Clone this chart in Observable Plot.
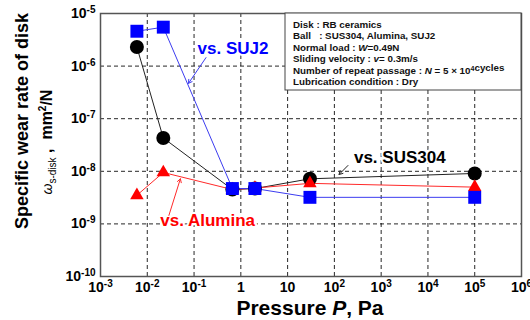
<!DOCTYPE html>
<html><head><meta charset="utf-8">
<script src="https://cdn.jsdelivr.net/npm/d3@7"></script>
<script src="https://cdn.jsdelivr.net/npm/@observablehq/plot@0.6"></script>
<style>body{margin:0;background:#fff} svg{display:block}</style>
</head><body><div id="chart"></div>
<script>
// ---- data ----
const pressure = [0.006, 0.022, 0.66, 2, 30, 1e5];
const sus304  = [2.3e-6, 4.3e-8, 4.5e-9, 4.7e-9, 7.2e-9, 9.1e-9];
const alumina = [3.5e-9, 9.5e-9, 4.5e-9, 4.8e-9, 5.9e-9, 5.0e-9];
const suj2    = [4.6e-6, 5.5e-6, 4.7e-9, 4.7e-9, 3.2e-9, 3.2e-9];
const xTicks = [1e-3, 1e-2, 1e-1, 1, 10, 1e2, 1e3, 1e4, 1e5, 1e6];
const yTicks = [1e-10, 1e-9, 1e-8, 1e-7, 1e-6, 1e-5];
const labelNames = ["vs. SUJ2", "vs. SUS304", "vs. Alumina"];
const labelX = [0.68, 2500, 0.195];
const labelY = [2.2e-6, 1.8e-8, 1.15e-9];
const arrowX1 = [0.18, 195, 0.029];
const arrowY1 = [1.45e-6, 1.29e-8, 1.45e-9];
const arrowX2 = [0.076, 126, 0.051];
const arrowY2 = [4.7e-7, 8.7e-9, 7.2e-9];
const infoLines = [
  ["Disk : RB ceramics"],
  ["Ball   : SUS304, Alumina, SUJ2"],
  ["Normal load : ", ["W", "i"], "=0.49N"],
  ["Sliding velocity : ", ["v", "i"], "= 0.3m/s"],
  ["Number of repeat passage : ", ["N", "i"], " = 5 \u00d7 10", ["4", "s"], "cycles"],
  ["Lubrication condition : Dry"]
];

const colors = {SUS304: "#000000", Alumina: "#ff0000", SUJ2: "#0000ff"};
const lineColors = {SUS304: "#222222", Alumina: "#ff2a2a", SUJ2: "#3c3cf0"};
const series = [
  {name: "SUS304", values: sus304, symbol: "circle", r: 7},
  {name: "Alumina", values: alumina, symbol: "triangle", r: 5},
  {name: "SUJ2", values: suj2, symbol: "square", r: 7.3}
];
const rows = s => pressure.map((p, i) => ({p, v: s.values[i]}));
const labelColorOrder = ["SUJ2", "SUS304", "Alumina"];
const labels = labelNames.map((t, i) => ({t, x: labelX[i], y: labelY[i], c: colors[labelColorOrder[i]]}));
const arrows = labelNames.map((t, i) => ({x1: arrowX1[i], y1: arrowY1[i], x2: arrowX2[i], y2: arrowY2[i], c: lineColors[labelColorOrder[i]]}));
const gridRowsX = xTicks.map(v => ({v}));
const gridRowsY = yTicks.map(v => ({v}));

const fmt = d => {
  const e = Math.round(Math.log10(d));
  if (e === 0) return "1";
  if (e === 1) return "10";
  return "10^" + e;
};

const font = "'Liberation Sans', Arial, sans-serif";

const marks = [
  Plot.ruleX(gridRowsX, {x: "v", stroke: "#000000", strokeOpacity: 0.85, strokeDasharray: "4 3", strokeWidth: 1}),
  Plot.ruleY(gridRowsY, {y: "v", stroke: "#000000", strokeOpacity: 0.85, strokeDasharray: "4 3", strokeWidth: 1}),
  Plot.frame({stroke: "#555", strokeWidth: 1.5}),
  Plot.axisX(xTicks, {tickFormat: fmt, tickSize: 0, tickPadding: 6, fontSize: 14, fontWeight: "bold", label: null}),
  Plot.axisY(yTicks, {tickFormat: fmt, tickSize: 0, tickPadding: 5, fontSize: 14, fontWeight: "bold", label: null})
];
for (const s of series) {
  marks.push(Plot.line(rows(s), {x: "p", y: "v", stroke: lineColors[s.name], strokeWidth: 1}));
}
for (const s of series) {
  marks.push(Plot.dot(rows(s), {x: "p", y: "v", symbol: s.symbol, r: s.r, fill: colors[s.name], stroke: "none"}));
}
marks.push(Plot.text(labels, {x: "x", y: "y", text: "t", fill: "c", stroke: "white", strokeWidth: 4, fontSize: 17, fontWeight: "bold"}));
marks.push(Plot.arrow(arrows, {x1: "x1", y1: "y1", x2: "x2", y2: "y2", stroke: "c", strokeWidth: 1, headLength: 6}));

const svg = Plot.plot({
  width: 530, height: 320,
  marginLeft: 100, marginRight: 9, marginTop: 13, marginBottom: 44,
  x: {type: "log", domain: [1e-3, 1e6]},
  y: {type: "log", domain: [1e-10, 1e-5]},
  style: {fontFamily: font, color: "#000", background: "#fff"},
  marks
});

// superscript exponents on tick labels
d3.select(svg).selectAll('[aria-label="x-axis tick label"] text, [aria-label="y-axis tick label"] text').each(function() {
  const t = this.textContent;
  if (t.includes("^")) {
    const [b, e] = t.split("^");
    const sel = d3.select(this);
    sel.text(b);
    sel.append("tspan").attr("dy", "-0.5em").attr("font-size", 10).text(e);
  }
});

const root = d3.select(svg);
// y-axis title
root.append("text")
  .attr("transform", "translate(22,121) rotate(-90)")
  .attr("text-anchor", "middle").attr("dy", "0.35em")
  .attr("font-family", font).attr("font-size", 18).attr("font-weight", "bold")
  .text("Specific wear rate of disk");
const t2 = root.append("text")
  .attr("transform", "translate(46,142) rotate(-90)")
  .attr("text-anchor", "middle").attr("dy", "0.35em")
  .attr("font-family", font).attr("font-size", 16).attr("font-weight", "bold");
t2.append("tspan").attr("font-style", "italic").attr("font-weight", "normal").attr("font-size", 14).text("\u03c9");
t2.append("tspan").attr("font-size", 10).attr("font-weight", "normal").attr("dy", 4).text("s-disk");
t2.append("tspan").attr("dy", -4).text(" ,  mm");
t2.append("tspan").attr("font-size", 10).attr("dy", -6).text("2");
t2.append("tspan").attr("dy", 6).text("/N");
// x-axis title
const xt = root.append("text")
  .attr("x", 310).attr("y", 315).attr("text-anchor", "middle")
  .attr("font-family", font).attr("font-size", 21).attr("font-weight", "bold");
xt.append("tspan").text("Pressure ");
xt.append("tspan").attr("font-style", "italic").text("P");
xt.append("tspan").text(", Pa");

// info box (anchored at plot top-right)
const box = root.append("g").attr("text-anchor", "start");
box.append("rect").attr("x", 285).attr("y", 13).attr("width", 236).attr("height", 77)
  .attr("fill", "#fff").attr("stroke", "#444").attr("stroke-width", 1);
infoLines.forEach((line, i) => {
  const tx = box.append("text").attr("x", 293).attr("y", 27.5 + i * 11.5).attr("text-anchor", "start")
    .attr("font-family", font).attr("font-size", 9.8).attr("font-weight", "bold").attr("fill", "#111");
  line.forEach(part => {
    if (typeof part === "string") tx.append("tspan").text(part);
    else if (part[1] === "i") tx.append("tspan").attr("font-style", "italic").text(part[0]);
    else { tx.append("tspan").attr("dy", -3).attr("font-size", 7).text(part[0]); tx.append("tspan").attr("dy", 3).text(""); }
  });
});

document.getElementById("chart").appendChild(svg);
</script>
</body></html>
